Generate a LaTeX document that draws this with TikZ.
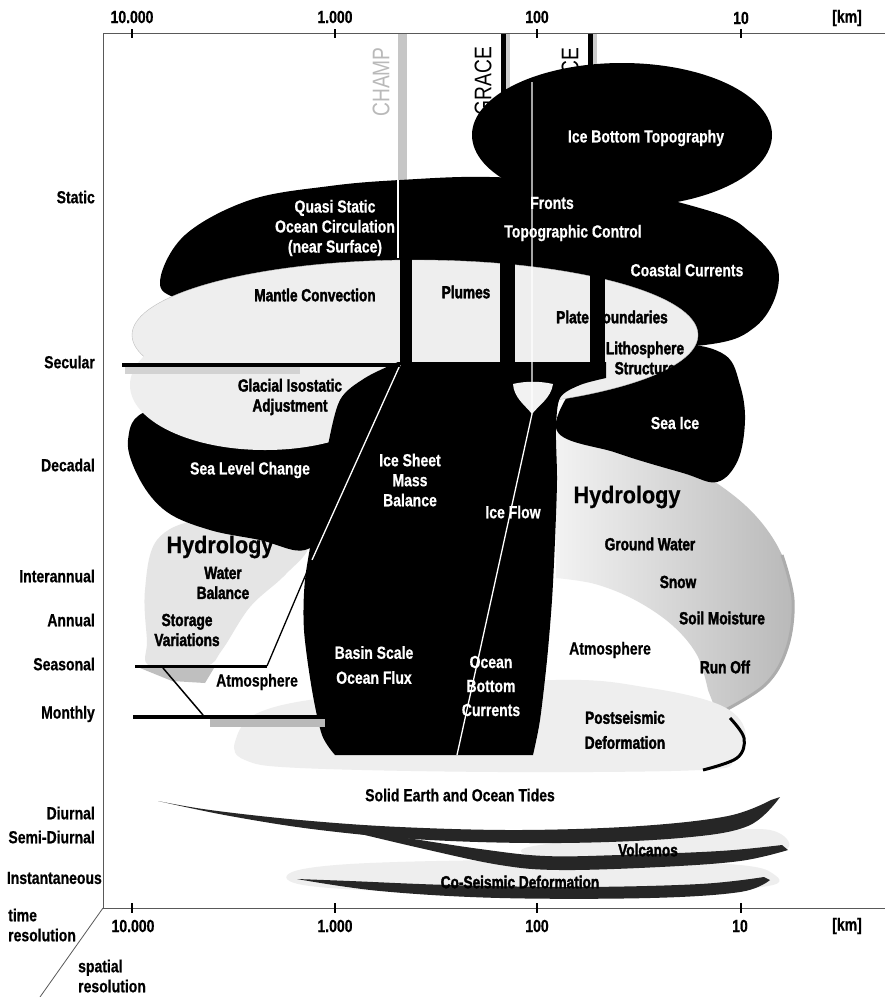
\documentclass[tikz,border=0pt]{standalone}
\usepackage{fontspec}
\setmainfont{Liberation Sans}[FakeStretch=0.8, BoldFeatures={FakeBold=0.6}]
\newfontfamily\hydfont{Liberation Sans}[FakeStretch=0.9, BoldFeatures={FakeBold=0.6}]
\newfontfamily\heavyfont{Liberation Sans Bold}[FakeStretch=0.78, FakeBold=2]
\begin{document}
\begin{tikzpicture}[x=1pt,y=-1pt,
  lab/.style={font=\fontsize{17.5}{20}\selectfont\bfseries, inner sep=0pt, align=center},
  wlab/.style={lab, text=white},
  blab/.style={lab, text=black},
  hvlab/.style={lab, font=\heavyfont\fontsize{17.5}{20}\selectfont, text=black},
  axlab/.style={lab, anchor=east},
  hyd/.style={font=\hydfont\fontsize{24}{24}\selectfont\bfseries, inner sep=0pt},
  sat/.style={rotate=90, font=\fontsize{24}{24}\selectfont, inner sep=0pt},
  dark/.style={fill=black},
  lite/.style={fill=gray!13},
  axis/.style={draw=black!65, line width=0.8pt},
  tick/.style={draw=black, line width=1.2pt},
  thinw/.style={draw=white, line width=1.3pt},
]
\useasboundingbox (0,0) rectangle (885,997);
\fill[white] (0,0) rectangle (885,997);

% ---------- satellite labels and upper lines
\node[sat, text=gray!55] (champ) at (381,82) {CHAMP};
\node[sat] (grace) at (483,81) {GRACE};
\node[sat] (goce) at (570,76) {GOCE};
\fill[gray!45] (398,33) rectangle (407,180);
\fill[black] (501,33) rectangle (506,95);
\fill[gray!40] (506,33) rectangle (510,92);
\fill[black] (588,33) rectangle (593,80);
\fill[gray!40] (593,33) rectangle (597,70);

% ---------- Ice bottom topography
\fill[dark] (622,135) ellipse [x radius=150pt, y radius=72pt];

% ---------- quasi static ocean circulation + coastal currents
\fill[dark] plot[smooth cycle, tension=0.6] coordinates {(160,281) (185,235) (250,200) (330,186) (400,180) (490,177) (600,185) (713,212) (750,232) (776,262) (776,295) (755,327) (712,344) (600,350) (400,350) (250,320) (180,300)};

% ---------- right hydrology
\shade[left color=gray!10, right color=gray!55] (556,432) -- plot[smooth, tension=0.6] coordinates {(556,432) (610,437) (665,455) (715,482) (755,515) (782,555) (793,600) (787,648) (765,685) (718,716)} -- plot[smooth, tension=0.6] coordinates {(708,690) (697,655) (672,625) (635,600) (595,584) (556,578)} -- cycle;
\draw[gray!65, line width=3pt] plot[smooth, tension=0.6] coordinates {(782,555) (793,600) (787,648) (765,685) (718,714)};

% ---------- sea ice
\fill[dark] plot[smooth cycle, tension=0.6] coordinates {(556,428) (617,453) (683,473) (717,482) (738,460) (745,420) (740,385) (725,355) (680,345) (600,360)};

% ---------- left hydrology
\fill[gray!20] plot[smooth cycle, tension=0.6] coordinates {(147,640) (145,590) (157,540) (200,520) (270,525) (308,545) (285,575) (250,607) (222,650) (205,666) (150,666)};

% ---------- sea level change
\fill[dark] plot[smooth cycle, tension=0.6] coordinates {(128,440) (140,480) (167,512) (210,530) (260,540) (305,550) (330,520) (335,450) (330,415) (250,400) (150,410)};

% ---------- postseismic deformation
\fill[lite] plot[smooth cycle, tension=0.6] coordinates {(235,742) (260,712) (350,695) (555,680) (650,688) (720,705) (745,730) (735,760) (700,770) (500,772) (300,768) (245,760)};
\draw[black, line width=3pt] plot[smooth, tension=0.6] coordinates {(730,718) (744,738) (737,758) (703,770)};

% ---------- mantle convection / glacial isostatic adjustment
\fill[lite, draw=gray!50, line width=0.4pt] (415,335) ellipse [x radius=283pt, y radius=75pt];
\fill[lite] (265,385) ellipse [x radius=135pt, y radius=65pt];

% ---------- central black column
\fill[dark] plot[smooth, tension=0.5] coordinates {(606,378) (580,385) (560,398) (556,430) (557,480) (555,540) (552,600) (547,660) (540,720) (533,755)} -- (335,755) -- plot[smooth, tension=0.5] coordinates {(335,755) (322,735) (312,690) (304,630) (305,580) (315,520) (327,450) (340,400) (365,378) (398,362)} -- (606,362) -- cycle;

% labels partly hidden by the satellite bands
\node[hvlab] (pb) at (612,317) {Plate Boundaries};
\node[hvlab] (ls) at (645,358) {Lithosphere\\Structure};

% ---------- satellite bands through the light ellipse
\fill[dark] (400,250) rectangle (412,365);
\fill[dark] (500,250) rectangle (515,365);
\fill[dark] (590,262) rectangle (605,365);
\fill[gray!10] (513,384) .. controls (514,398) and (525,405) .. (532,414) .. controls (539,405) and (551,398) .. (553,384) .. controls (540,381) and (525,381) .. cycle;

% thin lines
\draw[thinw] (532,82) -- (532,414) -- (457,755);
\draw[thinw] (398,180) -- (398,258);
\draw[thinw] (400,365) -- (312,560);
\draw[black, line width=1.3pt] (312,560) -- (267,666);
\fill[gray!50] (140,668) -- (214,668) -- (205,683) -- (172,681) -- cycle;
\draw[black, line width=3pt] (267,666) -- (135,666);
\draw[black, line width=1.5pt] (163,668) -- (203,715);
\fill[gray!35] (125,367) rectangle (300,374);
\draw[black, line width=4pt] (122,365) -- (400,365);
\fill[gray!55] (210,718) rectangle (325,727);
\draw[black, line width=3.5pt] (133,717) -- (333,717);

% ---------- labels in the upper part
\node[wlab] (ibt) at (646,138) {Ice Bottom Topography};
\node[wlab] (qs) at (335,228) {Quasi Static\\Ocean Circulation\\(near Surface)};
\node[wlab] (fr) at (552,203) {Fronts};
\node[wlab] (tc) at (573,233) {Topographic Control};
\node[wlab] (cc) at (687,270) {Coastal Currents};
\node[hvlab] (mc) at (315,295) {Mantle Convection};
\node[hvlab] (pl) at (466,292) {Plumes};
\node[hvlab] (gia) at (290,397) {Glacial Isostatic\\Adjustment};
\node[wlab] (si) at (675,423) {Sea Ice};
\node[wlab] (slc) at (250,470) {Sea Level Change};
\node[wlab] (ism) at (410,480) {Ice Sheet\\Mass\\Balance};
\node[wlab] (if) at (513,512) {Ice Flow};
\node[hyd] (hyr) at (627,497) {Hydrology};
\node[hvlab] (gw) at (650,544) {Ground Water};
\node[hvlab] (sn) at (678,582) {Snow};
\node[hvlab] (sm) at (722,618) {Soil Moisture};
\node[hvlab] (ro) at (725,667) {Run Off};
\node[blab] (atr) at (610,650) {Atmosphere};
\node[hyd] (hyl) at (220,547) {Hydrology};
\node[hvlab] (wb) at (223,583) {Water\\Balance};
\node[hvlab] (sv) at (187,630) {Storage\\Variations};
\node[blab] (atl) at (257,682) {Atmosphere};
\node[wlab, font=\fontsize{17.5}{25}\selectfont\bfseries] (bs) at (374,665) {Basin Scale\\Ocean Flux};
\node[wlab, font=\fontsize{17.5}{24}\selectfont\bfseries] (obc) at (491,686) {Ocean\\Bottom\\Currents};
\node[hvlab, font=\heavyfont\fontsize{17.5}{25}\selectfont] (psd) at (625,730) {Postseismic\\Deformation};

% ---------- tides, volcanos, co-seismic
\fill[lite] plot[smooth cycle, tension=0.6] coordinates {(525,848) (600,838) (700,832) (770,830) (788,848) (740,856) (620,857) (540,857)};
\fill[lite] plot[smooth cycle, tension=0.6] coordinates {(290,873) (350,864) (500,860) (650,861) (740,865) (772,873) (768,886) (650,893) (450,893) (310,886)};
\fill[black!85] plot[smooth, tension=0.6] coordinates {(158,801) (230,816) (320,830) (430,840) (560,843) (680,838) (748,826) (780,797)} -- plot[smooth, tension=0.6] coordinates {(771,800) (728,816) (640,826) (520,830) (400,827) (300,820) (210,810) (158,801)} -- cycle;
\fill[black!85] plot[smooth, tension=0.6] coordinates {(340,829) (420,848) (500,865) (560,870) (660,867) (740,861) (788,850)} -- plot[smooth, tension=0.6] coordinates {(782,845) (720,851) (620,855) (545,856) (480,849) (400,837) (340,829)} -- cycle;
\fill[black!85] plot[smooth, tension=0.6] coordinates {(297,879) (380,891) (500,898) (650,898) (740,892) (770,880)} -- plot[smooth, tension=0.6] coordinates {(764,877) (700,884) (580,887) (450,885) (350,881) (297,879)} -- cycle;
\node[blab] (tides) at (460,795) {Solid Earth and Ocean Tides};
\node[hvlab] (volc) at (648,850) {Volcanos};
\node[hvlab] (cosd) at (520,882) {Co-Seismic Deformation};

% ---------- axes
\draw[axis] (103,33) -- (885,33);
\draw[axis] (103,33) -- (103,908);
\draw[axis] (103,908) -- (885,908);
\draw[axis] (103,908) -- (40,997);
\foreach \xx in {132,335,537,741} {
  \draw[tick] (\xx,29) -- (\xx,38);
  \draw[tick] (\xx,903) -- (\xx,913);
}
\node[lab] (t1) at (132,17) {10.000};
\node[lab] (t2) at (335,17) {1.000};
\node[lab] (t3) at (537,17) {100};
\node[lab] (t4) at (741,18) {10};
\node[lab] (t5) at (847,18) {[km]};
\node[lab] (b1) at (133,926) {10.000};
\node[lab] (b2) at (335,926) {1.000};
\node[lab] (b3) at (537,926) {100};
\node[lab] (b4) at (740,926) {10};
\node[lab] (b5) at (847,926) {[km]};

\node[axlab] (l1) at (95,197) {Static};
\node[axlab] (l2) at (95,362) {Secular};
\node[axlab] (l3) at (95,465) {Decadal};
\node[axlab] (l4) at (95,576) {Interannual};
\node[axlab] (l5) at (95,620) {Annual};
\node[axlab] (l6) at (95,664) {Seasonal};
\node[axlab] (l7) at (95,714) {Monthly};
\node[axlab] (l8) at (95,813) {Diurnal};
\node[axlab] (l9) at (95,837) {Semi-Diurnal};
\node[axlab] (l10) at (102,878) {Instantaneous};
\node[lab, anchor=west, align=left] (tr) at (8,925) {time\\resolution};
\node[lab, anchor=west, align=left] (sr) at (78,976) {spatial\\resolution};
\end{tikzpicture}
\end{document}
